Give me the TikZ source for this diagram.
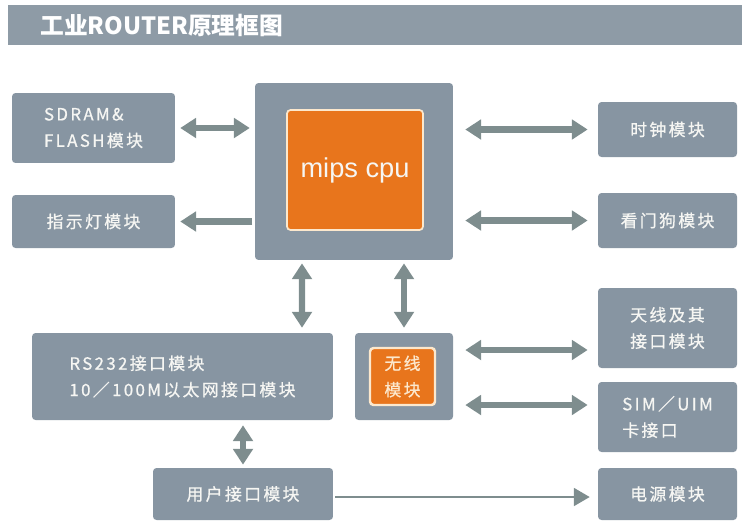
\documentclass[tikz,border=0pt]{standalone}
\usepackage{fontspec}
\usepackage{xcolor}
\usepackage{tikz}
\usetikzlibrary{arrows.meta, positioning, calc}
\setmainfont{Liberation Sans}
\newfontfamily\cjk[LetterSpace=14, FakeBold=0.8]{Noto Sans CJK SC}
\newfontfamily\cjktitle{Noto Sans CJK SC}
\definecolor{boxgray}{RGB}{135, 149, 162}
\definecolor{titlegray}{RGB}{142, 155, 166}
\definecolor{cpuorange}{RGB}{232, 117, 28}
\definecolor{arrowgray}{RGB}{126, 141, 142}
\definecolor{labelwhite}{RGB}{246, 246, 243}
\definecolor{rimcream}{RGB}{252, 232, 205}
\tikzset{
  module/.style={fill=boxgray, rounded corners=2pt, text=labelwhite, font=\cjk\fontsize{9.6}{15}\selectfont, align=left, inner sep=0pt},
  chip/.style={fill=cpuorange, draw=rimcream, line width=1pt, rounded corners=2pt, text=labelwhite, align=center, inner sep=0pt},
  dblarrow/.style={arrowgray, line width=3.6pt, {Triangle[length=9pt,width=11pt]}-{Triangle[length=9pt,width=11pt]}},
  onearrow/.style={arrowgray, line width=3.6pt, -{Triangle[length=9pt,width=11pt]}},
  thinarrow/.style={arrowgray, line width=1.6pt, -{Triangle[length=9pt,width=10pt]}}
}
\begin{document}
\begin{tikzpicture}[x=0.02cm, y=-0.02cm]
            \useasboundingbox (0, 0) rectangle (742, 521);
            % Title bar
            \fill[titlegray] (8, 5) rectangle (742, 45);
            \node[anchor=west, text=white, inner sep=0pt,
                font=\cjktitle\bfseries\fontsize{13.5}{16}\selectfont] (title) at (40, 25) {工业ROUTER原理框图};

            % CPU block
            \node[module, minimum width=3.96cm, minimum height=3.54cm] (cpu) at (354, 171.5) {};
            \node[chip, minimum width=2.72cm, minimum height=2.4cm,
                font=\fontsize{15.5}{18}\selectfont] (mips) at (355, 170) {mips cpu};

            % Left modules
            \node[module, minimum width=3.26cm, minimum height=1.4cm] (sdram) at (93.5, 128) {SDRAM\&\\FLASH模块};
            \node[module, minimum width=3.26cm, minimum height=1.06cm] (led) at (93.5, 221.5) {指示灯模块};

            % Right modules
            \node[module, minimum width=2.78cm, minimum height=1.1cm] (clock) at (667.5, 129.5) {时钟模块};
            \node[module, minimum width=2.78cm, minimum height=1.1cm] (wdog) at (667.5, 220.5) {看门狗模块};
            \node[module, minimum width=2.78cm, minimum height=1.6cm] (antenna) at (667.5, 328) {天线及其\\接口模块};
            \node[module, minimum width=2.78cm, minimum height=1.4cm] (sim) at (667.5, 417) {SIM／UIM\\卡接口};
            \node[module, minimum width=2.78cm, minimum height=1.04cm] (power) at (667.5, 494) {电源模块};

            % Bottom modules
            \node[module, minimum width=6.02cm, minimum height=1.74cm] (rs232) at (182.5, 376.5) {RS232接口模块\\10／100M以太网接口模块};
            \node[module, minimum width=1.96cm, minimum height=1.74cm] (wireless) at (404, 376.5) {};
            \node[chip, line width=1.4pt, minimum width=1.3cm, minimum height=1.14cm,
                text=rimcream, font=\cjk\fontsize{9.6}{15}\selectfont] (radio) at (402.5, 376.5) {无线\\模块};
            \node[module, minimum width=3.6cm, minimum height=1.04cm] (user) at (243, 494) {用户接口模块};

            % Arrows round the cpu
            \draw[dblarrow, shorten <=2.8pt, shorten >=2.8pt] (sdram.east) -- (sdram.east -| cpu.west);
            \draw[onearrow, shorten <=1.5pt, shorten >=2.8pt] (led.east -| cpu.west) -- (led.east);
            \draw[dblarrow, shorten <=6.8pt, shorten >=5.7pt] (clock.west -| cpu.east) -- (clock.west);
            \draw[dblarrow, shorten <=6.8pt, shorten >=5.7pt] (wdog.west -| cpu.east) -- (wdog.west);
            \draw[dblarrow, shorten <=1.7pt, shorten >=2.8pt] ($(cpu.south)+(-52, 0)$) -- ($(rs232.north)+(119.5, 0)$);
            \draw[dblarrow, shorten <=1.7pt, shorten >=2.8pt] (wireless.north |- cpu.south) -- (wireless.north);

            % Arrows round the wireless block
            \draw[dblarrow, shorten <=6.8pt, shorten >=5.7pt] ($(wireless.east)+(0, -26.5)$) -- ($(wireless.east -| antenna.west)+(0, -26.5)$);
            \draw[dblarrow, shorten <=6.8pt, shorten >=5.7pt] ($(wireless.east)+(0, 28.5)$) -- ($(wireless.east -| sim.west)+(0, 28.5)$);

            % Arrows round the user block
            \draw[dblarrow, shorten <=2.8pt, shorten >=1.7pt] (user.north |- rs232.south) -- (user.north);
            \draw[thinarrow, shorten <=1pt, shorten >=4.5pt] ($(user.east)+(0, 3)$) -- ($(user.east -| power.west)+(0, 3)$);
        \end{tikzpicture}
\end{document}
